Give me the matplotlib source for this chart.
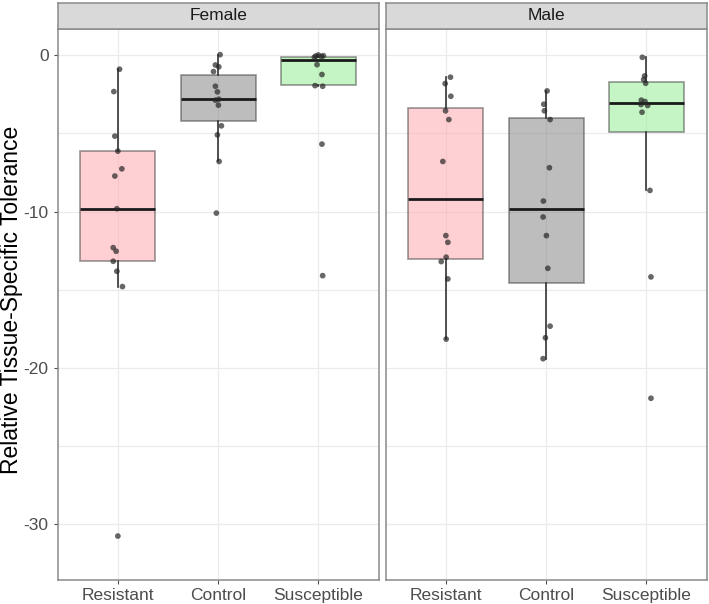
import numpy as np
import matplotlib
matplotlib.use('Agg')
from matplotlib import pyplot as plt

plt.rcParams['font.family'] = ['Liberation Sans', 'DejaVu Sans']
plt.rcParams['axes.unicode_minus'] = False

# =============================================================================
# Data
# =============================================================================
categories = ['Resistant', 'Control', 'Susceptible']
panels = ['Female', 'Male']

# jittered points (values) and their horizontal jitter (category units)
female_resistant = [-0.89, -2.32, -5.17, -6.13, -7.26, -7.72, -9.81, -12.30, -12.53, -13.17, -13.81, -14.79, -30.74]
female_resistant_jit = [0.017, -0.04, -0.03, 0.0, 0.04, -0.03, -0.01, -0.046, -0.017, -0.046, -0.01, 0.046, 0.0]
female_control = [0.04, -0.62, -0.74, -1.04, -1.98, -2.34, -2.81, -2.87, -3.19, -4.51, -5.09, -6.79, -10.09]
female_control_jit = [0.02, -0.027, 0.007, -0.046, -0.027, -0.007, 0.007, -0.027, 0.003, 0.033, -0.007, 0.01, -0.017]
female_susceptible = [0.02, -0.05, -0.08, -0.12, -0.03, -0.6, -1.23, -1.94, -1.98, -5.68, -14.09]
female_susceptible_jit = [0.0, -0.025, 0.03, -0.04, 0.05, -0.013, 0.036, -0.033, 0.043, 0.036, 0.043]
male_resistant = [-1.40, -1.81, -2.62, -3.55, -4.11, -6.79, -11.53, -11.96, -12.91, -13.19, -14.30, -18.15]
male_resistant_jit = [0.046, -0.007, 0.05, -0.003, 0.03, -0.03, 0.0, 0.02, 0.003, -0.046, 0.02, 0.003]
male_control = [-2.28, -3.13, -3.55, -4.11, -7.19, -9.32, -10.34, -11.53, -13.62, -17.32, -18.06, -19.40]
male_control_jit = [0.01, -0.023, -0.017, 0.04, 0.033, -0.027, -0.03, 0.003, 0.017, 0.04, -0.007, -0.03]
male_susceptible = [-0.13, -1.32, -1.55, -1.79, -2.87, -2.96, -3.15, -3.21, -3.64, -8.64, -14.17, -21.93]
male_susceptible_jit = [-0.04, -0.017, -0.027, -0.007, -0.05, -0.013, -0.053, 0.013, -0.043, 0.036, 0.046, 0.046]

# box statistics: whislo, q1, median, q3, whishi
female_boxes = [(-14.79, -13.17, -9.81, -6.13, -0.89),
                (-6.79, -4.19, -2.81, -1.28, 0.04),
                (-1.98, -1.90, -0.30, -0.09, 0.04)]
male_boxes = [(-18.15, -13.00, -9.17, -3.34, -1.40),
              (-19.40, -14.55, -9.85, -3.98, -2.28),
              (-8.64, -4.91, -3.06, -1.72, -0.13)]

fills = ['#FFA3A9', '#7D7D7D', '#8DEB8D']
yticks = [0, -10, -20, -30]

points = {
    'Female': [(female_resistant, female_resistant_jit),
               (female_control, female_control_jit),
               (female_susceptible, female_susceptible_jit)],
    'Male': [(male_resistant, male_resistant_jit),
             (male_control, male_control_jit),
             (male_susceptible, male_susceptible_jit)],
}
boxes = {'Female': female_boxes, 'Male': male_boxes}

# =============================================================================
# Figure
# =============================================================================
W, H = 709, 604
fig = plt.figure(figsize=(W / 100, H / 100), dpi=100)

def px_axes(x0, y0, x1, y1):
    return fig.add_axes([x0 / W, 1 - y1 / H, (x1 - x0) / W, (y1 - y0) / H])

panel_x = [(57.7, 378.5), (385.7, 706.5)]
top, bottom, strip_top = 29, 580, 2.7
border = '#8a8a8a'

for i, name in enumerate(panels):
    x0, x1 = panel_x[i]
    ax = px_axes(x0, top, x1, bottom)

    stats = []
    for (wl, q1, med, q3, wh) in boxes[name]:
        stats.append(dict(whislo=wl, q1=q1, med=med, q3=q3, whishi=wh, fliers=[]))
    bp = ax.bxp(stats, positions=[1, 2, 3], widths=0.75, patch_artist=True,
                showcaps=False, showfliers=False, manage_ticks=False,
                boxprops=dict(edgecolor='#333333', linewidth=1.2),
                whiskerprops=dict(color='#333333', linewidth=1.2),
                medianprops=dict(color='#1a1a1a', linewidth=2.0))
    for patch, c in zip(bp['boxes'], fills):
        patch.set_facecolor(c)
        patch.set_alpha(0.5)
        patch.set_edgecolor((0.2, 0.2, 0.2, 0.9))

    for j, (vals, jit) in enumerate(points[name]):
        xs = np.array(jit) + (j + 1)
        ax.scatter(xs, vals, s=17, color='#262626', alpha=0.7, edgecolors='none', zorder=5)

    ax.set_xlim(0.4, 3.6)
    ax.set_ylim(-33.55, 1.68)
    ax.set_yticks(yticks)
    ax.set_yticklabels([str(t) for t in yticks])
    ax.set_yticks([-5, -15, -25], minor=True)
    ax.set_xticks([1, 2, 3])
    ax.set_xticklabels(categories)
    ax.grid(True, which='both', color='#ebebeb', lw=0.9, zorder=0)
    ax.set_axisbelow(True)
    for s in ax.spines.values():
        s.set_color(border)
        s.set_linewidth(1.1)
    ax.tick_params(axis='both', which='major', colors='#4d4d4d', labelcolor='#4d4d4d',
                   labelsize=12.5, length=3, width=0.8)
    ax.tick_params(axis='y', which='minor', length=0)
    ax.tick_params(axis='x', pad=3)
    if i > 0:
        ax.tick_params(axis='y', labelleft=False, length=0)

    # strip
    sax = px_axes(x0, strip_top, x1, top)
    sax.set_xticks([])
    sax.set_yticks([])
    sax.set_facecolor('#d9d9d9')
    for s in sax.spines.values():
        s.set_color(border)
        s.set_linewidth(1.1)
    sax.text(0.5, 0.5, name, ha='center', va='center', fontsize=12.5, color='#1a1a1a',
             transform=sax.transAxes)

fig.text(12 / W, 1 - 300 / H, 'Relative Tissue-Specific Tolerance', rotation=90,
         ha='center', va='center', fontsize=16.5, color='black')

fig.savefig('out.png', dpi=100)
